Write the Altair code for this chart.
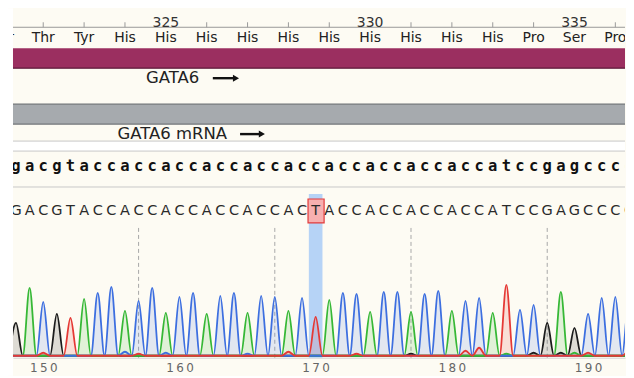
import altair as alt
import pandas as pd

# ---------------- data ----------------
FIRST_POS = 148                      # trace position of the first visible base
TOP_STRAND = "gacgtac" "caccaccaccaccaccaccaccaccac" "catccgagcccc"
READ = "GACGTAC" "CACCACCACCACCAC" "T" "ACCACCACCACCAT" "CCGAGCCCC"
PEAKS = [33, 68, 54, 42, 38, 57, 63, 69, 45, 55,
         68, 43, 59, 63, 42, 60, 63, 43, 60, 59,
         45, 58, 39, 56, 63, 62, 44, 64, 64, 44,
         62, 65, 45, 55, 58, 43, 71, 46, 51, 33,
         64, 28, 42, 58, 59, 58]
NOISE_CH = ["T", "T", "T", "T", "T", "T", "T", "T", "C", "C", "C", "G", "G", "G", "A", "A"]
NOISE_POS = [150, 157, 168, 173, 181, 182, 190, 193, 156, 159, 165, 177, 186, 188, 184, 189]
NOISE_H = [3, 2, 4, 2, 5, 8, 3, 5, 4, 3, 2, 2, 3, 3, 2, 3]
AA_NUM = list(range(321, 337))
AA = ["Ser", "Thr", "Tyr",
      "His", "His", "His", "His", "His", "His", "His", "His", "His", "His",
      "Pro", "Ser", "Pro"]
RULER_EVERY = 5
AXIS_VALUES = [150, 160, 170, 180, 190]
GRID_POS = [157, 167, 177, 187]
MISMATCH_POS = 170
FEATURES = ["GATA6", "GATA6 mRNA"]
FEATURE_START = [100, 100]
FEATURE_END = [400, 400]

# ---------------- layout / style ----------------
W, H = 613, 350
BG = "#FDFBF3"
COLORS = {"G": "#1c1c1c", "A": "#36b836", "T": "#e53935", "C": "#3d6fe0"}
XDOM = [147.78, 192.71]
xscale = alt.Scale(domain=XDOM, nice=False, zero=False)
AX = alt.Axis(values=AXIS_VALUES, ticks=False, grid=False, domain=True,
              domainColor="#d4d4d4", labelFont="DejaVu Sans", labelFontSize=12,
              labelColor="#666666", labelPadding=5, title=None,
              labelExpr="join(split(datum.label, ''), '\u2009')")


def X(field):
    return alt.X(field, type="quantitative", scale=xscale, axis=AX)


def hrule(yv, color, width=1.0):
    return alt.Chart(pd.DataFrame({"a": [0]})).mark_rule(color=color, strokeWidth=width).encode(
        x=alt.value(0), x2=alt.value(W), y=alt.value(yv))


layers = []

# white strip left of the viewer
layers.append(alt.Chart(pd.DataFrame({"a": [0]})).mark_rect(color="white").encode(
    x=alt.value(-5), x2=alt.value(0), y=alt.value(0), y2=alt.value(H + 18)))

# ---- ruler & translation ----
aa_df = pd.DataFrame({"n": AA_NUM, "aa": AA})
aa_df["pos"] = 3 * aa_df["n"] - 816
layers.append(hrule(19, "#9a9a9a"))
layers.append(alt.Chart(aa_df).transform_filter(f"datum.n % {RULER_EVERY} != 0")
              .mark_rule(color="#9a9a9a", clip=True).encode(
                  x=X("pos"), y=alt.value(14), y2=alt.value(19)))
layers.append(alt.Chart(aa_df).transform_filter(f"datum.n % {RULER_EVERY} == 0")
              .mark_text(font="DejaVu Sans", fontSize=14, color="#333333",
                         baseline="alphabetic", clip=True).encode(
                  x=X("pos"), y=alt.value(19), text="n:N"))
layers.append(alt.Chart(aa_df).mark_text(font="DejaVu Sans", fontSize=14, color="#222222",
                                         baseline="middle", clip=True).encode(
    x=X("pos"), y=alt.value(30), text="aa:N"))

# ---- features ----
feat_df = pd.DataFrame({"name": FEATURES, "start": FEATURE_START, "end": FEATURE_END})
bar_y = {"GATA6": (40, 60, "#9b2f60"), "GATA6 mRNA": (96, 116, "#a6aaae")}
for name, (y0, y1, fill) in bar_y.items():
    d = feat_df[feat_df["name"] == name]
    layers.append(alt.Chart(d).mark_rect(color=fill, clip=True).encode(
        x=X("start"), x2="end", y=alt.value(y0), y2=alt.value(y1)))
layers.append(hrule(60, "#5e1a3a", 1.2))
layers.append(hrule(96, "#707478", 1.2))
layers.append(hrule(116, "#707478", 1.2))

label_x = {"GATA6": (157.55, 70, 162.45, 164.15), "GATA6 mRNA": (155.45, 126, 164.45, 166.05)}
for name, (lx, ly, a0, a1) in label_x.items():
    d = pd.DataFrame({"name": [name], "lx": [lx], "a0": [a0], "a1": [a1]})
    layers.append(alt.Chart(d).mark_text(font="DejaVu Sans", fontSize=16.5, color="#222222",
                                         align="left", baseline="middle").encode(
        x=X("lx"), y=alt.value(ly), text="name:N"))
    layers.append(alt.Chart(d).mark_rule(color="#111111", strokeWidth=2.4).encode(
        x=X("a0"), x2="a1", y=alt.value(ly)))
    layers.append(alt.Chart(d).mark_point(shape="triangle-right", filled=True, color="#111111",
                                          opacity=1, size=50).encode(
        x=X("a1"), y=alt.value(ly)))

# white gap between feature and sequence lanes
layers.append(alt.Chart(pd.DataFrame({"a": [0]})).mark_rect(color="white").encode(
    x=alt.value(0), x2=alt.value(W), y=alt.value(133), y2=alt.value(143)))
layers.append(hrule(133, "#c8c8c8"))
layers.append(hrule(143, "#c8c8c8"))
layers.append(hrule(179, "#c8c8c8"))

# ---- reference strand ----
seq_df = pd.DataFrame({"pos": [FIRST_POS + i for i in range(len(TOP_STRAND))],
                       "top": list(TOP_STRAND),
                       "read": list(READ[:len(TOP_STRAND)])})
layers.append(alt.Chart(seq_df).mark_text(font="DejaVu Sans Mono", fontSize=15.5,
                                          fontWeight="bold", color="#111111",
                                          baseline="middle", clip=True).encode(
    x=X("pos"), y=alt.value(158), text="top:N"))

# ---- highlight column ----
hl = pd.DataFrame({"lo": [MISMATCH_POS - 0.5], "hi": [MISMATCH_POS + 0.5],
                   "blo": [MISMATCH_POS - 0.56], "bhi": [MISMATCH_POS + 0.62]})
layers.append(alt.Chart(hl).mark_rect(color="#b6d3f6").encode(
    x=X("lo"), x2="hi", y=alt.value(186), y2=alt.value(H)))

# dashed grid lines
layers.append(alt.Chart(pd.DataFrame({"g": GRID_POS})).mark_rule(
    color="#a8a8a8", strokeDash=[4, 3], strokeWidth=1).encode(
    x=X("g"), y=alt.value(220), y2=alt.value(H)))

# ---- traces ----
noise = {(c, p): h for c, p, h in zip(NOISE_CH, NOISE_POS, NOISE_H)}
rows = []
for ch in "GATC":
    for i, b in enumerate(READ):
        p = FIRST_POS + i
        rows.append({"ch": ch, "x": p - 0.5, "v": 0.0})
        rows.append({"ch": ch, "x": p, "v": PEAKS[i] if b == ch else noise.get((ch, p), 0)})
    rows.append({"ch": ch, "x": FIRST_POS + len(READ) - 0.5, "v": 0.0})
trace = pd.DataFrame(rows)
Y = alt.Y("v:Q", scale=alt.Scale(domain=[-2, 348], nice=False, zero=False), axis=None)
for ch in ["G", "A", "C", "T"]:
    d = trace[trace["ch"] == ch]
    layers.append(alt.Chart(d).mark_area(color=COLORS[ch], opacity=0.14,
                                         interpolate="monotone", clip=True).encode(
        x=X("x"), y=Y))
for ch in ["G", "A", "C", "T"]:
    d = trace[trace["ch"] == ch]
    layers.append(alt.Chart(d).mark_line(color=COLORS[ch], strokeWidth=1.8,
                                         interpolate="monotone", clip=True).encode(
        x=X("x"), y=Y))

# ---- read row ----
layers.append(alt.Chart(hl).mark_rect(fill="#f7b0b0", stroke="#e23b3b", strokeWidth=1.2).encode(
    x=X("blo"), x2="bhi", y=alt.value(191), y2=alt.value(215)))
layers.append(alt.Chart(seq_df).mark_text(font="DejaVu Sans", fontSize=14.5, color="#2a2a2a",
                                          baseline="middle", clip=True).encode(
    x=X("pos"), y=alt.value(203), text="read:N"))

chart = alt.layer(*layers).properties(
    width=W, height=H, background=BG,
    padding={"left": 0, "top": 0, "right": 0, "bottom": 0}
).configure_view(stroke=None, fill=BG)

chart.save("out.html", embed_options={"renderer": "svg", "actions": False})
